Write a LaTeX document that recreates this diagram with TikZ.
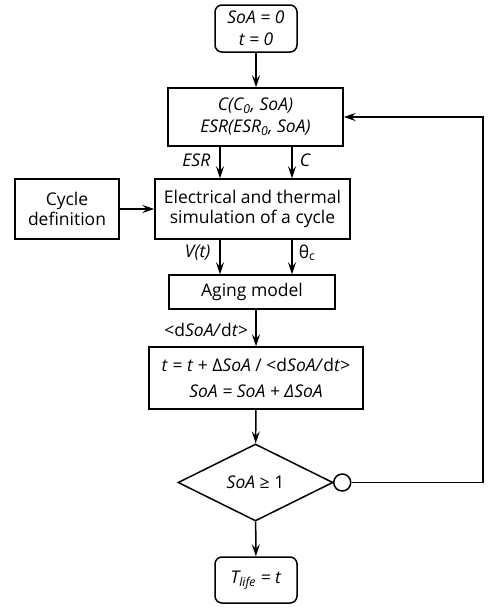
\documentclass[tikz,border=0pt]{standalone}
\usepackage{fontspec}
\setmainfont{Open Sans}
\usetikzlibrary{arrows.meta,shapes.geometric}
\begin{document}
\begin{tikzpicture}[x=1pt,y=-1pt, line width=1.5pt,
  txt/.style={font=\fontsize{17.5}{20}\selectfont},
  box/.style={draw, line width=1.5pt, align=center, inner sep=0pt, txt},
  term/.style={box, rounded corners=7pt},
  arr/.style={-{Stealth[length=12pt,width=8pt,inset=4.5pt]}, line width=1.5pt},
  lbl/.style={txt, inner sep=0pt}]
\useasboundingbox (0,0) rectangle (492,608);

\node[term, minimum width=82pt, minimum height=47pt] (start) at (256,28.5) {\textit{SoA = 0}\\[2pt]\textit{t = 0}};
\node[box, minimum width=175pt, minimum height=58pt] (cbox) at (255.5,117) {\textit{C(C\textsubscript{0}, SoA)}\\[2pt]\textit{ESR(ESR\textsubscript{0}, SoA)}};
\node[box, minimum width=104pt, minimum height=60pt] (cyc) at (67,209) {Cycle\\definition};
\node[box, minimum width=195pt, minimum height=60pt] (sim) at (252.5,209) {Electrical and thermal\\simulation of a cycle};
\node[box, minimum width=166pt, minimum height=34pt] (aging) at (252,292) {Aging model};
\node[box, minimum width=214pt, minimum height=62pt] (upd) at (256,378) {\textit{t} = \textit{t} + Δ\textit{SoA} / <d\textit{SoA/}d\textit{t}>\\[6pt]\textit{SoA = SoA + ΔSoA}};
\node[draw, diamond, shape aspect=2, minimum width=155pt, minimum height=77pt, inner sep=0pt, line width=1.5pt, txt] (dec) at (255.5,482.5) {\textit{SoA} ≥ 1};
\node[circle, draw, fill=white, minimum size=17pt, inner sep=0pt, line width=1.5pt] (circ) at ([xshift=8.5pt]dec.east) {};
\node[term, minimum width=82pt, minimum height=46pt] (end) at (256,580) {\textit{T\textsubscript{life} = t}};

\coordinate (xa) at (220,0);
\coordinate (xb) at (292,0);
\coordinate (rx) at (483,0);

\draw[arr] (start.south) -- (start.south |- cbox.north);
\draw[arr] (cbox.south -| xa) -- (sim.north -| xa);
\draw[arr] (cbox.south -| xb) -- (sim.north -| xb);
\draw[arr] (cyc) -- (sim);
\draw[arr] (sim.south -| xa) -- (aging.north -| xa);
\draw[arr] (sim.south -| xb) -- (aging.north -| xb);
\draw[arr] (aging.south -| upd.north) -- (upd.north);
\draw[arr] (upd) -- (dec);
\draw[arr] (dec) -- (end);
\draw[arr] (circ.east) -- (circ.east -| rx) |- (cbox.east);

\node[lbl, anchor=east] (lesr) at (211,160) {\textit{ESR}};
\node[lbl, anchor=west] (lc) at (299,160) {\textit{C}};
\node[lbl, anchor=east] (lv) at (211,253) {\textit{V(t)}};
\node[lbl, anchor=west] (lth) at (298,253) {θ\textsubscript{c}};
\node[lbl, anchor=east] (ld) at (249,330) {<d\textit{SoA/}d\textit{t}>};
\end{tikzpicture}
\end{document}
